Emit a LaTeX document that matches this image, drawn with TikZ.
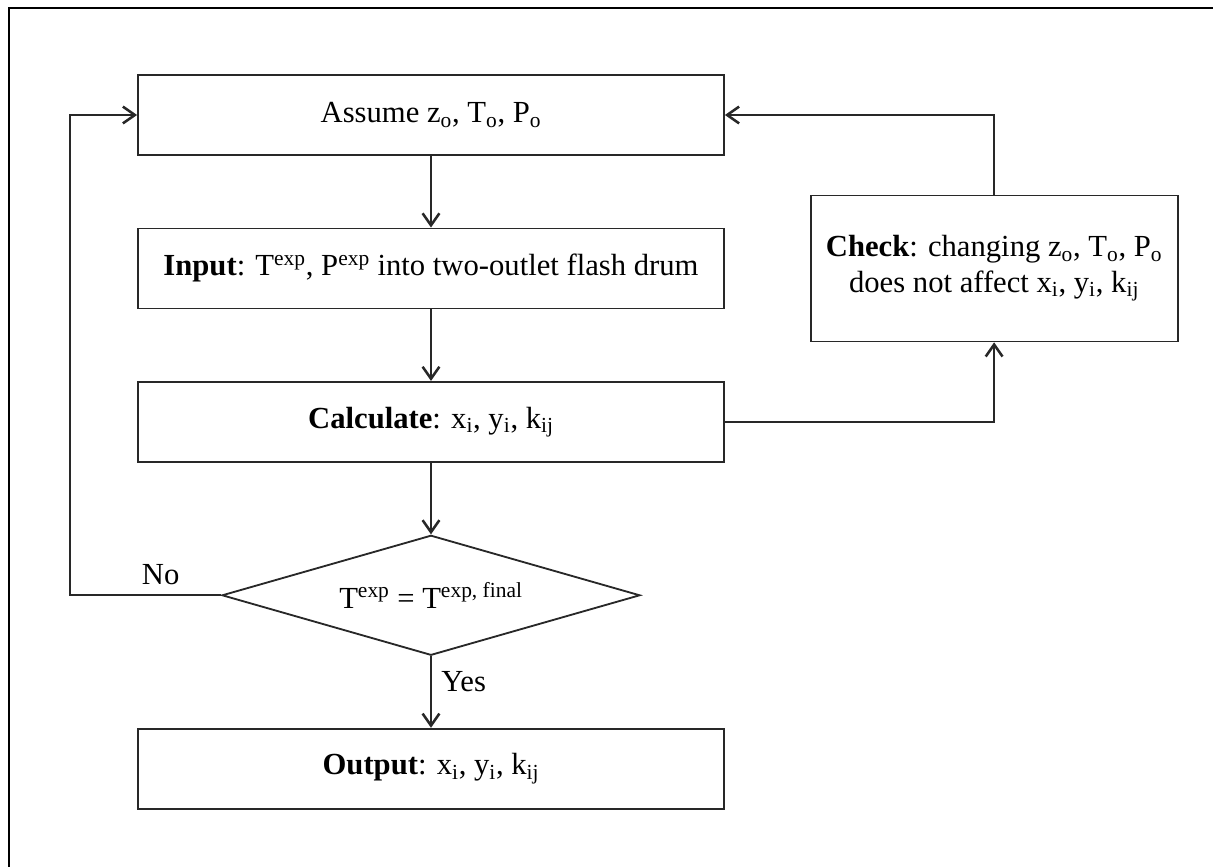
\documentclass[tikz,border=0pt]{standalone}
\usepackage{fontspec}
\setmainfont{Liberation Serif}
\usetikzlibrary{positioning, shapes.geometric, arrows.meta}
\definecolor{myline}{RGB}{40,40,40}

\begin{document}
\begin{tikzpicture}[
		node distance=1.79cm and 2.12cm,
		font=\fontsize{21.8}{25.5}\selectfont,
		box/.style={rectangle, draw=myline, line width=1.3pt, minimum width=14.65cm, minimum height=2cm, text centered, inner sep=0pt},
		decision/.style={diamond, aspect=3.5, draw=myline, line width=1.3pt, minimum width=10.45cm, minimum height=3cm, inner sep=0pt},
		arrow/.style={line width=1.3pt, draw=myline, -{Straight Barb[length=0.3cm, width=0.42cm, line width=1.8pt]}}
		]
		
		% Page size and outer frame
		\useasboundingbox (-10.775,-18.8) rectangle (19.55,2.875);
		\draw[line width=1.8pt] (-10.55,-19.5) -- (-10.55,2.675) -- (20,2.675);
		
		% Nodes
		\node[box] (assume) {Assume z\textsubscript{o}, T\textsubscript{o}, P\textsubscript{o}};
		\node[box, below=of assume] (input) {\textbf{Input}: T\textsuperscript{exp}, P\textsuperscript{exp} into two-outlet flash drum};
		\node[box, below=of input] (calc) {\textbf{Calculate}: x\textsubscript{i}, y\textsubscript{i}, k\textsubscript{ij}};
		\node[decision, below=of calc] (test) {T\textsuperscript{exp} = T\textsuperscript{exp, final}};
		\node[box, below=of test] (output) {\textbf{Output}: x\textsubscript{i}, y\textsubscript{i}, k\textsubscript{ij}};
		
		\node[box, right=of input, minimum width=9.175cm, minimum height=3.65cm, align=center] (check) {\textbf{Check}: changing z\textsubscript{o}, T\textsubscript{o}, P\textsubscript{o}\\does not affect x\textsubscript{i}, y\textsubscript{i}, k\textsubscript{ij}};
		
		\coordinate[left=3.775cm of test.west] (noturn);
		
		% Arrows
		\draw[arrow] (assume) -- (input);
		\draw[arrow] (input) -- (calc);
		\draw[arrow] (calc) -- (test);
		\draw[arrow] (test) -- node[right=0.12cm, pos=0.35] {Yes} (output);
		\draw[arrow] (calc.east) -| (check.south);
		\draw[arrow] (check.north) |- (assume.east);
		\draw[arrow] (test.west) -- node[above, pos=0.4, yshift=0.12cm] {No} (noturn) |- (assume.west);
		
	\end{tikzpicture}
\end{document}
